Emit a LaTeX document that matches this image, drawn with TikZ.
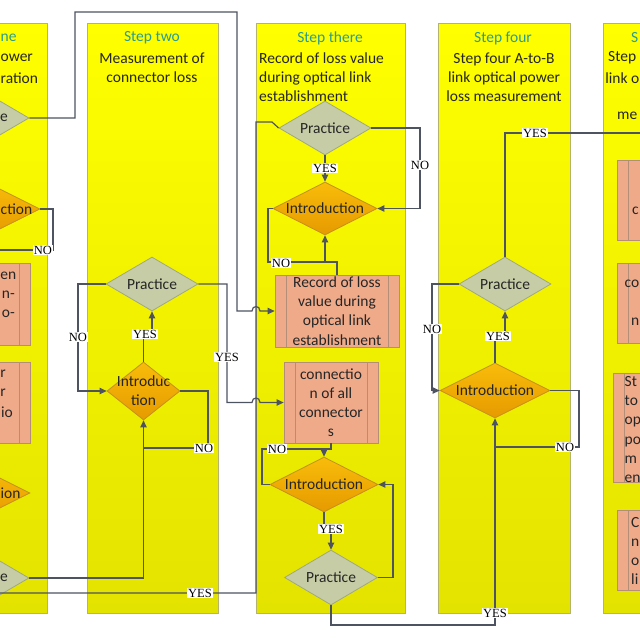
\documentclass[tikz,border=0pt]{standalone}
\usepackage{fontspec}
\setmainfont{Carlito}
\newfontfamily\labfont{Liberation Serif}
\usetikzlibrary{shapes.geometric,arrows.meta}
\definecolor{lanetop}{HTML}{FFFF00}
\definecolor{lanebot}{HTML}{E3E300}
\definecolor{laneedge}{HTML}{B4B46E}
\definecolor{prfill}{HTML}{C5CCA6}
\definecolor{predge}{HTML}{A0A882}
\definecolor{intop}{HTML}{F9BC0A}
\definecolor{inbot}{HTML}{E69A00}
\definecolor{inedge}{HTML}{C4901E}
\definecolor{boxfill}{HTML}{EFAA8A}
\definecolor{boxedge}{HTML}{B58E78}
\definecolor{wire}{HTML}{4E5361}
\definecolor{ttl}{HTML}{2A9D8F}
\definecolor{txt}{HTML}{262626}
\newcommand\mydfont{\fontsize{15.5}{19.2}\selectfont}
\newcommand\mylfont{\labfont\fontsize{12.5}{14}\selectfont}
\begin{document}
\begin{tikzpicture}[x=1pt,y=-1pt,
  lane/.style={draw=laneedge, line width=0.8pt, top color=lanetop, bottom color=lanebot, anchor=north west, minimum height=590pt, inner sep=0pt},
  ttext/.style={font=\mydfont, text=ttl, inner sep=0pt},
  btext/.style={font=\mydfont, text=txt, inner sep=0pt, align=center},
  dtext/.style={font=\mydfont, text=txt, inner sep=0pt, align=center},
  prd/.style={diamond, draw=predge, fill=prfill, line width=0.8pt, inner sep=0pt, minimum width=92pt, minimum height=54pt},
  ind/.style={diamond, draw=inedge, top color=intop, bottom color=inbot, line width=0.8pt, inner sep=0pt, minimum width=106pt, minimum height=54pt},
  pbox/.style={rectangle, draw=boxedge, fill=boxfill, line width=0.8pt, inner sep=0pt, align=center, font=\mydfont, text=txt,
    path picture={\draw[boxedge, line width=0.8pt]
      ([xshift=11pt]path picture bounding box.north west) -- ([xshift=11pt]path picture bounding box.south west)
      ([xshift=-11pt]path picture bounding box.north east) -- ([xshift=-11pt]path picture bounding box.south east);}},
  wire/.style={draw=wire, line width=1.2pt},
  arr/.style={-{Triangle[length=7pt,width=6.5pt]}},
  lab/.style={fill=white, inner sep=0.8pt, font=\mylfont, text=black}]
\useasboundingbox (0,0) rectangle (640,640);
\clip (0,0) rectangle (640,640);
\fill[white] (0,0) rectangle (640,640);
% lanes
\node[lane, minimum width=131pt] (lane1) at (-84,23) {};
\node[lane, minimum width=131pt] (lane2) at (87,23) {};
\node[lane, minimum width=149pt] (lane3) at (256,23) {};
\node[lane, minimum width=132pt] (lane4) at (438,23) {};
\node[lane, minimum width=140pt] (lane5) at (603,23) {};
% headings
\node[ttext, anchor=west] (t1) at (0.5,38) {ne};
\node[btext, anchor=west] (d1a) at (0.5,58) {ower};
\node[btext, anchor=west] (d1b) at (0.5,78) {ration};
\node[ttext] (t2) at (152,38) {Step two};
\node[btext] (d2) at (152,68) {Measurement of\\connector loss};
\node[ttext] (t3) at (330,38) {Step there};
\node[btext, align=left, anchor=west] (d3) at (259,77) {Record of loss value\\during optical link\\establishment};
\node[ttext] (t4) at (503,38) {Step four};
\node[btext] (d4) at (504,77.5) {Step four A-to-B\\link optical power\\loss measurement};
\node[ttext, anchor=west] (t5) at (631,38) {S};
\node[btext, anchor=west] (d5a) at (608,58) {Step};
\node[btext, anchor=east] (d5b) at (639.5,78) {link o};
\node[btext, anchor=west] (d5c) at (617,116) {me};
% column 1
\node[prd] (p1a) at (-17,118) {};
\node[dtext, anchor=east] (f1) at (8,118) {e};
\node[ind, minimum width=108pt] (i1a) at (-14,209) {};
\node[dtext, anchor=west] (f2) at (0.5,209) {ction};
\node[pbox, minimum width=120pt, minimum height=82pt] (b1a) at (-30,304) {};
\node[dtext, anchor=east] (f3) at (16.5,276) {en};
\node[dtext, anchor=east] (f4) at (15,295) {n-};
\node[dtext, anchor=east] (f5) at (15,314) {o-};
\node[pbox, minimum width=120pt, minimum height=81pt] (b1b) at (-30,402.5) {};
\node[dtext, anchor=east] (f6) at (6,374) {r};
\node[dtext, anchor=east] (f7) at (6,393) {r};
\node[dtext, anchor=east] (f8) at (13,412) {io};
\node[ind, minimum width=108pt] (i1b) at (-24,493) {};
\node[dtext, anchor=west] (f9) at (0.5,493) {ion};
\node[prd] (p1b) at (-17,578) {};
\node[dtext, anchor=east] (f10) at (8,578) {e};
% column 2
\node[prd, label={[dtext]center:Practice}] (p2) at (152,284) {};
\node[ind, minimum width=73pt, minimum height=58pt, label={[dtext]center:Introduc\\tion}] (i2) at (143.5,391) {};
% column 3
\node[prd, label={[dtext]center:Practice}] (p3a) at (325,128) {};
\node[ind, minimum width=104pt, minimum height=53pt, label={[dtext]center:Introduction}] (i3a) at (325,208.5) {};
\node[pbox, minimum width=124pt, minimum height=72pt] (b3a) at (337,311) {Record of loss\\value during\\optical link\\establishment};
\node[pbox, minimum width=94pt, minimum height=81pt] (b3b) at (331,402.5) {connectio\\n of all\\connector\\s};
\node[ind, minimum width=108pt, minimum height=55pt, label={[dtext]center:Introduction}] (i3b) at (324,484.5) {};
\node[prd, minimum width=93pt, minimum height=55pt, label={[dtext]center:Practice}] (p3b) at (331,577.5) {};
% column 4
\node[prd, label={[dtext]center:Practice}] (p4) at (505,284) {};
\node[ind, minimum width=110pt, minimum height=55pt, label={[dtext]center:Introduction}] (i4) at (495,390.5) {};
% column 5
\node[pbox, minimum width=122pt, minimum height=80pt] (b5a) at (678,200) {};
\node[dtext, anchor=west] (g1) at (632,211) {c};
\node[pbox, minimum width=122pt, minimum height=80pt] (b5b) at (678,303) {};
\node[dtext, anchor=east] (g2) at (639.5,284) {co};
\node[dtext, anchor=east] (g3) at (639.5,322) {n};
\node[pbox, minimum width=127pt, minimum height=109pt] (b5c) at (676.5,427.5) {};
\node[dtext, anchor=west, align=left] (g4) at (624.5,429.5) {St\\to\\op\\po\\m\\en};
\node[pbox, minimum width=123pt, minimum height=80pt] (b5d) at (678.5,550) {};
\node[dtext, anchor=west, align=left] (g5) at (631,551) {C\\n\\o\\li};
% free ends
\coordinate (e1) at (-5,250);
\coordinate (e2) at (-5,593);
\coordinate (e3) at (645,133);
% connectors
\draw[wire, arr] (p1a.east) -- (75,118) -- (75,12) -- (237,12) -- (237,311) -- (252,311) .. controls (252,305) and (260,305) .. (260,311) -- (b3a.west);
\draw[wire, arr] (p2.east) -- (227,284) -- (227,402.5) -- (252,402.5) .. controls (252,396.5) and (260,396.5) .. (260,402.5) -- (b3b.west);
\draw[wire] (e2) -- (256,593) -- (256,122) -- (272,122) -- (p3a.west);
\draw[wire] (i1a.east) -- (53,209) |- (e1);
\draw[wire, arr] (p1b.east) -| (i2.south);
\draw[wire, arr] (p2.west) -- (78,284) |- (i2.west);
\draw[wire] (i2.east) -- (208,391) |- (143.5,448);
\draw[wire, arr] (i2.north) -- (143.5,334) -| (p2.south);
\draw[wire, arr] (p3a.south) -- (i3a.north);
\draw[wire, arr] (p3a.east) -- (420,128) |- (i3a.east);
\draw[wire, arr] (b3a.north) |- (325,262) -- (i3a.south);
\draw[wire] (i3a.west) -- (268,208.5) |- (325,262);
\draw[wire, arr] (b3b.south) |- (324,449) -- (i3b.north);
\draw[wire] (i3b.west) -- (262,484.5) |- (324,449);
\draw[wire, arr] (i3b.south) |- (331,529) -- (p3b.north);
\draw[wire, arr] (p3b.east) -- (393,577.5) |- (i3b.east);
\draw[wire, arr] (p3b.south) |- (495,625) -- (i4.south);
\draw[wire] (i4.east) -- (579,390.5) |- (495,447);
\draw[wire, arr] (p4.west) -- (432,284) |- (i4.west);
\draw[wire, arr] (i4.north) |- (505,336) -- (p4.south);
\draw[wire] (p4.north) |- (e3);
% labels
\node[lab] (l1) at (43,250) {NO};
\node[lab] (l2) at (145,334) {YES};
\node[lab] (l3) at (78,337) {NO};
\node[lab] (l4) at (204,448) {NO};
\node[lab] (l5) at (227,357) {YES};
\node[lab] (l6) at (200,593) {YES};
\node[lab] (l7) at (325,168) {YES};
\node[lab] (l8) at (420,165) {NO};
\node[lab] (l9) at (281,263) {NO};
\node[lab] (l10) at (277,449) {NO};
\node[lab] (l11) at (331,529) {YES};
\node[lab] (l12) at (495,613) {YES};
\node[lab] (l13) at (565,447) {NO};
\node[lab] (l14) at (498,336) {YES};
\node[lab] (l15) at (432,329) {NO};
\node[lab] (l16) at (535,133) {YES};
\end{tikzpicture}
\end{document}
